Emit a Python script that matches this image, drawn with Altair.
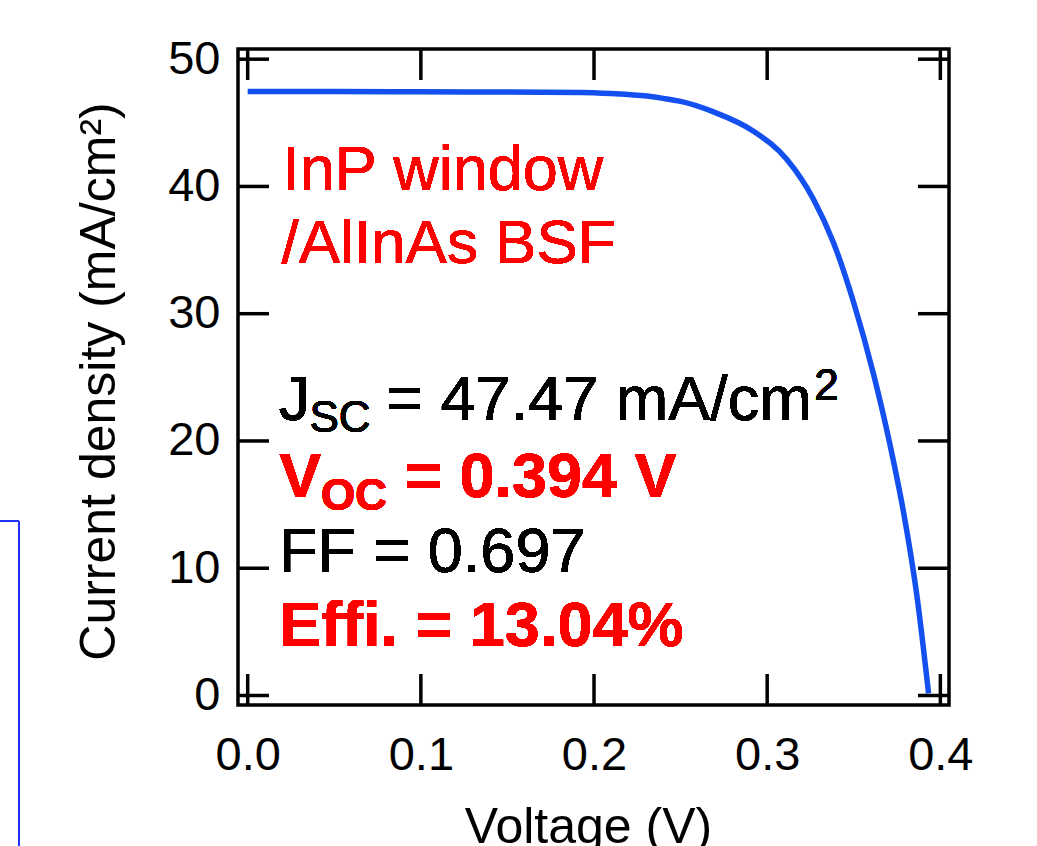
import altair as alt
import pandas as pd

# ---- data ----
voltage = [0.000, 0.050, 0.100, 0.150, 0.192, 0.210, 0.2305, 0.240, 0.250, 0.269,
           0.2921, 0.3114, 0.3268, 0.3383, 0.3499, 0.3615, 0.3711, 0.3788,
           0.3865, 0.3932]
current = [47.47, 47.46, 47.44, 47.42, 47.39, 47.30, 47.10, 46.92, 46.68, 45.86,
           44.34, 42.12, 38.98, 35.58, 30.90, 25.20, 19.60, 14.36,
           7.80, 0.17]

x_ticks = [0.0, 0.1, 0.2, 0.3, 0.4]
y_ticks = [0, 10, 20, 30, 40, 50]

FONT = "Liberation Sans"
W, H = 711, 656
TICK = 31
LW = 3.5

curve_df = pd.DataFrame({"v": voltage, "j": current})
xt_df = pd.DataFrame({"v": x_ticks})
yt_df = pd.DataFrame({"j": y_ticks})

xscale = alt.Scale(domain=[-0.0056, 0.4050], nice=False, zero=False)
yscale = alt.Scale(domain=[-0.747, 50.80], nice=False, zero=False)

curve = alt.Chart(curve_df).mark_line(
    color="#1450f0", strokeWidth=5.5, interpolate="monotone"
).encode(
    x=alt.X("v:Q", scale=xscale, axis=alt.Axis(
        values=x_ticks, format=".1f", ticks=False, domain=False, grid=False,
        labelFontSize=47, labelFont=FONT, labelColor="black", labelPadding=27,
        labelFlush=False, labelOverlap=False,
        title="Voltage (V)", titleFontSize=50, titleFont=FONT,
        titleFontWeight="normal", titleColor="black",
        titleBaseline="alphabetic", titleY=137, titleX=350)),
    y=alt.Y("j:Q", scale=yscale, axis=alt.Axis(
        values=y_ticks, format="d", ticks=False, domain=False, grid=False,
        labelFontSize=47, labelFont=FONT, labelColor="black", labelPadding=18,
        labelFlush=False, labelOverlap=False,
        title="Current density (mA/cm²)", titleFontSize=50, titleFont=FONT,
        titleFontWeight="normal", titleColor="black",
        titleBaseline="alphabetic", titleAngle=270, titleX=-124, titleY=332)),
)

tick_bottom = alt.Chart(xt_df).mark_rule(color="black", strokeWidth=LW).encode(
    x="v:Q", y=alt.value(H), y2=alt.value(H - TICK))
tick_top = alt.Chart(xt_df).mark_rule(color="black", strokeWidth=LW).encode(
    x="v:Q", y=alt.value(0), y2=alt.value(TICK))
tick_left = alt.Chart(yt_df).mark_rule(color="black", strokeWidth=LW).encode(
    y="j:Q", x=alt.value(0), x2=alt.value(TICK))
tick_right = alt.Chart(yt_df).mark_rule(color="black", strokeWidth=LW).encode(
    y="j:Q", x=alt.value(W), x2=alt.value(W - TICK))

# annotations: (text, voltage, current, size, weight, color)
annotations = [
    ("InP window", 0.0200, 39.74, 63, "normal", "#ff0000"),
    ("/AlInAs BSF", 0.0195, 34.00, 62, "normal", "#ff0000"),
    ("J", 0.0180, 21.66, 63, "normal", "black"),
    ("SC", 0.0357, 20.72, 44, "normal", "black"),
    ("= 47.47 mA/cm", 0.0800, 21.66, 63, "normal", "black"),
    ("2", 0.3272, 23.23, 44, "normal", "black"),
    ("V", 0.0182, 15.60, 63, "bold", "#ff0000"),
    ("OC", 0.0424, 14.58, 44, "bold", "#ff0000"),
    ("= 0.394 V", 0.0909, 15.60, 63, "bold", "#ff0000"),
    ("FF = 0.697", 0.0181, 9.71, 63, "normal", "black"),
    ("Effi. = 13.04%", 0.0181, 3.89, 63, "bold", "#ff0000"),
]

texts = []
for t, v, j, s, w, c in annotations:
    texts.append(alt.Chart(curve_df).mark_text(
        align="left", baseline="alphabetic", font=FONT, fontSize=s,
        fontWeight=w, color=c
    ).encode(x=alt.datum(v), y=alt.datum(j), text=alt.value(t)))

# fragment of neighbouring panel frame (blue) at the far left
blue_v = alt.Chart(curve_df).mark_rule(color="#2030ff", strokeWidth=1.5).encode(
    x=alt.value(-219), y=alt.value(472), y2=alt.value(800))
blue_h = alt.Chart(curve_df).mark_rule(color="#2030ff", strokeWidth=1.5).encode(
    x=alt.value(-240), x2=alt.value(-219), y=alt.value(472))

chart = alt.layer(
    curve, tick_bottom, tick_top, tick_left, tick_right, *texts, blue_v, blue_h
).properties(
    width=W, height=H,
    background="white",
    padding={"left": 238, "top": 49, "right": 88, "bottom": 141},
    autosize=alt.AutoSizeParams(type="none"),
).configure_view(stroke="black", strokeWidth=LW)

chart.save("out.html", embed_options={"renderer": "svg", "actions": False})
